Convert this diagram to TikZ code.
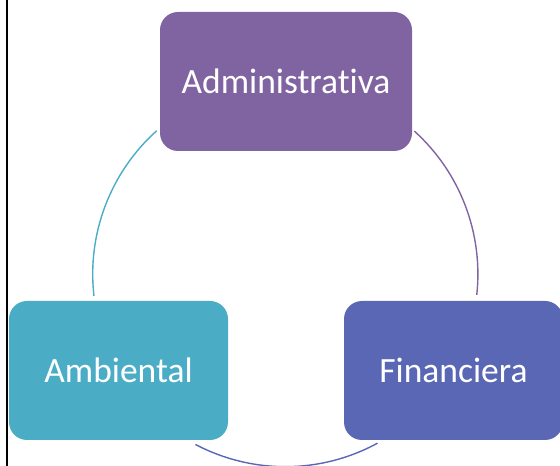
\documentclass[tikz,border=0pt]{standalone}
\usepackage{fontspec}
\setmainfont{Carlito}[Ligatures=NoCommon]
\definecolor{cadmin}{HTML}{8064A2}
\definecolor{cambi}{HTML}{4BACC6}
\definecolor{cfin}{HTML}{5A67B5}
\begin{document}
\begin{tikzpicture}[x=1pt,y=1pt,
  boxstyle/.style={rounded corners=18pt, text=white, inner sep=0pt, outer sep=0pt,
    font=\fontsize{35.5}{42}\selectfont, minimum height=139pt},
  arcstyle/.style={line width=1.4pt}]
\useasboundingbox (0,0) rectangle (560,466);
\draw[line width=1.7pt] (6.8,0) -- (6.8,466);
\node[boxstyle, fill=cadmin, minimum width=252pt] (adm) at (286,384.5) {Administrativa};
\node[boxstyle, fill=cambi, minimum width=219pt] (amb) at (118.5,95.5) {Ambiental};
\node[boxstyle, fill=cfin, minimum width=219pt] (fin) at (453.5,95.5) {Financiera};
\coordinate (c) at (285.3,191.9);
\draw[arcstyle, cadmin] (c) ++(47.9:192.6) arc[start angle=47.9, end angle=-6.2, radius=192.6];
\draw[arcstyle, cfin] (c) ++(298.6:192.6) arc[start angle=298.6, end angle=242.2, radius=192.6];
\draw[arcstyle, cambi] (c) ++(186.5:192.6) arc[start angle=186.5, end angle=131.9, radius=192.6];
\end{tikzpicture}
\end{document}
